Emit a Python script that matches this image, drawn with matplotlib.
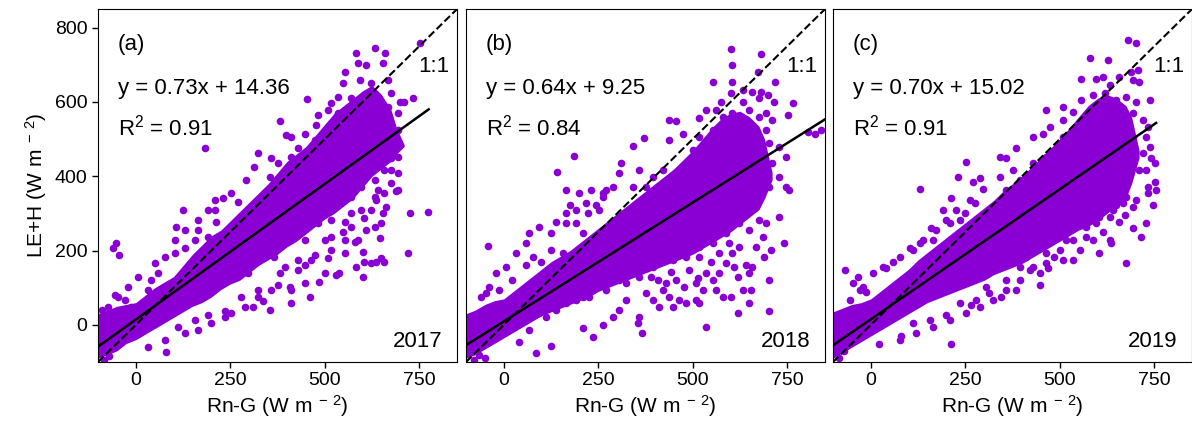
import numpy as np
import matplotlib.pyplot as plt

plt.rcParams['font.family'] = ['Liberation Sans', 'DejaVu Sans']
plt.rcParams['mathtext.fontset'] = 'custom'
plt.rcParams['mathtext.rm'] = 'Liberation Sans'
plt.rcParams['mathtext.default'] = 'regular'

# panel info
years = ["2017", "2018", "2019"]
tags = ["(a)", "(b)", "(c)"]
slopes = [0.73, 0.64, 0.70]
intercepts = [14.36, 9.25, 15.02]
r2 = [0.91, 0.84, 0.91]
fit_xmax = [775, 850, 755]

# dense core of each cloud: x, lower edge, upper edge
core_x = [-100, -75, -50, -25, 0, 25, 50, 75, 100, 125, 150, 175, 200, 225, 250, 275, 300,
          325, 350, 375, 400, 425, 450, 475, 500, 525, 550, 575, 600, 625, 650, 675, 690, 710]
core_lo_2017 = [-90, -80, -70, -50, -40, -25, -10, 5, 20, 35, 50, 60, 75, 95, 110, 120, 140,
                160, 175, 190, 210, 225, 245, 265, 285, 300, 320, 340, 370, 400, 420, 440, 460, 480]
core_hi_2017 = [30, 40, 50, 55, 60, 80, 100, 115, 130, 160, 190, 215, 240, 255, 280, 305, 330,
                355, 380, 410, 440, 460, 480, 510, 540, 570, 590, 610, 630, 645, 620, 580, 530, 485]
core_lo_2018 = [-90, -80, -65, -50, -35, -20, -5, 10, 25, 35, 45, 55, 65, 75, 90, 100, 110,
                120, 130, 140, 150, 160, 170, 180, 190, 205, 220, 235, 250, 270, 290, 310, 340, 390]
core_hi_2018 = [30, 40, 55, 65, 70, 90, 110, 130, 150, 170, 185, 200, 220, 240, 260, 280, 300,
                320, 340, 360, 380, 400, 420, 445, 470, 500, 530, 555, 570, 575, 560, 535, 500, 410]
core_lo_2019 = [-90, -75, -60, -45, -30, -15, 0, 15, 30, 45, 60, 70, 80, 90, 100, 110, 120,
                135, 145, 155, 165, 180, 195, 210, 225, 240, 255, 265, 280, 300, 320, 340, 380, 450]
core_hi_2019 = [35, 45, 55, 60, 70, 90, 110, 130, 150, 175, 195, 215, 235, 255, 275, 295, 315,
                335, 360, 380, 400, 425, 450, 475, 500, 530, 560, 590, 610, 620, 610, 590, 560, 470]

# scattered points outside the core (Rn-G, LE+H)
pts_2017 = [
    (182, 475), (454, 607), (381, 549), (583, 731), (632, 744), (660, 731), (654, 704),
    (610, 699), (588, 704), (553, 681), (548, 650), (592, 659), (623, 650), (667, 659),
    (676, 623), (570, 610), (597, 601), (641, 614), (698, 601), (733, 610), (711, 601),
    (751, 758), (508, 578), (482, 565), (535, 569), (478, 538), (447, 515), (398, 511),
    (411, 506), (429, 475), (359, 448), (323, 462), (314, 426), (292, 390), (354, 399),
    (376, 435), (385, 381), (394, 354), (429, 417), (464, 453), (500, 480), (517, 524),
    (553, 542), (579, 560), (605, 551), (632, 560), (658, 542), (676, 506), (694, 524),
    (685, 480), (676, 448), (694, 453), (694, 363), (658, 417), (632, 390), (597, 372),
    (570, 417), (535, 435), (517, 399), (482, 381), (456, 408), (429, 372), (411, 453),
    (473, 498), (561, 498), (623, 498), (650, 453), (579, 453), (614, 435), (641, 363),
    (570, 354), (535, 363),
    (-52, 220), (-60, 206), (-45, 188), (-56, 80), (81, -72), (125, 309), (107, 263),
    (165, 255), (231, 341), (720, 193), (725, 300), (773, 305), (689, 359), (658, 354),
    (636, 336), (654, 300), (663, 318), (645, 233), (632, 264), (605, 287), (610, 255),
    (601, 197), (623, 166), (605, 170), (636, 170), (650, 179), (658, 170), (601, 128),
    (583, 157), (588, 228), (579, 224), (553, 193), (539, 139), (530, 134), (500, 139),
    (486, 116), (460, 76), (473, 188), (447, 161), (411, 58), (381, 139), (376, 107),
    (354, 40), (337, 63), (310, 49), (253, 31), (235, 36), (191, 27), (156, 13),
    (112, -5), (548, 251), (517, 237), (508, 179), (429, 175), (570, 300), (553, 278),
    (517, 282), (632, 345), (570, 345), (407, 103), (323, 94), (279, 76), (297, 139),
    (367, 184), (394, 229), (447, 229), (482, 273), (59, 139), (41, 121), (32, 94),
    (103, 193), (129, 206), (156, 228), (191, 237), (213, 278), (209, 309), (270, 332),
    (15, 54), (-12, 49), (-29, 67), (-85, -95), (-70, -85), (-60, -60), (-90, 40),
    (394, 157), (429, 148), (464, 175), (517, 201), (553, 228), (570, 264), (597, 309),
    (623, 309), (650, 273), (500, 228), (447, 112), (411, 94), (359, 94), (323, 76),
    (288, 49), (235, 22), (200, 4), (165, -14), (129, -23), (76, -41), (32, -59),
    (103, 228), (129, 255), (165, 282), (191, 309), (209, 336), (253, 354), (76, 184),
    (50, 166), (6, 130), (-21, 103), (-47, 76), (-74, 49), (535, 614), (517, 596),
    (570, 578), (614, 587), (667, 587), (694, 569), (676, 417), (694, 408), (676, 381),
]
pts_2018 = [
    (601, 742), (680, 729), (605, 699), (553, 654), (604, 654), (672, 681), (718, 653),
    (601, 623), (632, 632), (657, 628), (680, 628), (698, 619), (676, 610), (632, 601),
    (575, 601), (716, 601), (764, 596), (751, 565), (804, 520), (824, 514), (747, 453),
    (747, 372), (187, 455), (140, 412), (341, 481), (372, 502), (438, 551), (456, 550),
    (438, 498), (473, 515), (517, 556), (535, 578), (561, 578), (579, 560), (605, 569),
    (650, 578), (676, 560), (694, 569), (711, 551), (694, 524), (676, 498), (702, 489),
    (729, 480), (711, 435), (694, 417), (729, 399), (702, 372), (676, 372), (650, 408),
    (623, 435), (641, 480), (605, 515), (579, 506), (553, 524), (517, 506), (500, 471),
    (535, 462), (570, 453), (597, 426), (570, 399), (544, 417), (517, 426), (482, 435),
    (464, 399), (500, 381), (447, 372), (420, 417), (394, 399), (359, 417), (376, 372),
    (341, 372), (310, 435), (306, 408), (288, 372), (262, 354), (231, 363), (605, 372),
    (658, 363), (755, 363),
    (-43, 212), (-38, 103), (-60, 76), (125, 248), (175, 323), (222, 300), (244, 323),
    (262, 345), (729, 291), (742, 220), (707, 202), (689, 184), (702, 121), (702, 36),
    (658, 157), (650, 139), (641, 161), (619, 130), (610, 157), (632, 94), (654, 94),
    (650, 58), (619, 31), (601, 76), (579, 76), (561, 94), (553, 121), (535, 139),
    (548, 170), (513, 125), (526, 94), (508, 67), (517, 58), (535, -5), (482, 58),
    (478, 103), (464, 67), (447, 49), (438, 76), (411, 49), (429, 112), (442, 143),
    (407, 121), (389, 130), (376, 85), (359, 22), (354, 4), (367, -23), (323, 67),
    (306, 40), (288, 22), (262, 0), (235, -32), (209, -9), (125, -58), (85, -76),
    (41, -45), (517, 184), (570, 193), (597, 220), (588, 318), (623, 291), (676, 282),
    (658, 332), (632, 350), (676, 352), (561, 255), (517, 246), (473, 202), (411, 184),
    (341, 139), (306, 121), (253, 112), (209, 76), (165, 58), (112, 22), (68, -14),
    (6, 4), (76, 184), (98, 170), (59, 161), (125, 202), (156, 193), (165, 273),
    (191, 273), (209, 246), (129, 148), (23, 121), (-12, 94), (165, 363), (200, 354),
    (270, 363), (-80, -95), (-65, -80), (-50, -90), (840, 525),
    (420, 94), (394, 67), (456, 121), (491, 148), (508, 112), (570, 139), (588, 166),
    (605, 193), (623, 210), (667, 210), (685, 237), (694, 273), (650, 255), (623, 273),
    (588, 246), (553, 220), (517, 210), (482, 184), (447, 175), (394, 157), (359, 130),
    (323, 112), (270, 94), (226, 76), (191, 67), (138, 40), (94, 31), (59, 13),
    (68, 246), (94, 264), (138, 278), (165, 300), (191, 309), (217, 327), (253, 309),
    (59, 220), (32, 193), (6, 157), (-21, 139), (-47, 85),
]
pts_2019 = [
    (680, 767), (702, 758), (579, 719), (628, 713), (658, 668), (689, 681), (707, 686),
    (557, 663), (597, 663), (614, 668), (632, 645), (694, 659), (711, 654), (738, 605),
    (508, 587), (464, 578), (535, 574), (557, 605), (588, 619), (619, 623), (650, 605),
    (676, 614), (702, 601), (508, 551), (561, 556), (597, 569), (623, 578), (658, 569),
    (694, 569), (720, 551), (733, 533), (429, 506), (456, 515), (473, 533), (508, 506),
    (535, 524), (570, 524), (605, 533), (641, 524), (667, 533), (694, 506), (729, 506),
    (738, 480), (742, 448), (751, 435), (751, 385), (755, 363), (733, 372), (711, 417),
    (729, 417), (385, 475), (359, 448), (341, 453), (253, 439), (231, 399), (270, 385),
    (288, 394), (129, 365), (297, 367), (341, 399), (376, 417), (394, 390), (429, 435),
    (464, 453), (500, 471), (535, 480), (570, 471), (605, 489), (641, 471), (676, 462),
    (694, 444), (658, 426), (623, 417), (588, 417), (553, 435), (517, 417), (482, 399),
    (447, 381), (411, 363), (359, 363),
    (-69, 148), (-47, 112), (-34, 128), (-21, 103), (-12, 89), (81, -30), (23, -51),
    (213, -51), (160, 260), (191, 309), (213, 341), (275, 327), (59, 170), (41, 152),
    (112, 202), (129, 220), (165, 228), (209, 273), (235, 282), (248, 300), (676, 167),
    (605, 193), (632, 228), (636, 220), (614, 251), (588, 228), (570, 237), (553, 202),
    (535, 175), (508, 175), (486, 184), (469, 152), (447, 139), (447, 107), (420, 148),
    (394, 157), (385, 94), (359, 121), (345, 76), (314, 85), (306, 103), (279, 67),
    (266, 54), (235, 58), (200, 27), (156, 13), (112, 4), (694, 260), (716, 237),
    (729, 273), (747, 323), (733, 354), (694, 318), (672, 296), (658, 278), (650, 323),
    (676, 345), (632, 291), (597, 273), (570, 309), (535, 264), (517, 228), (482, 237),
    (429, 202), (464, 193), (411, 184), (341, 157), (376, 193), (-85, -90), (-70, -70),
    (429, 157), (464, 166), (500, 201), (535, 228), (570, 264), (605, 291), (641, 309),
    (667, 327), (702, 336), (394, 121), (359, 94), (323, 67), (288, 49), (253, 31),
    (209, 13), (165, -5), (120, -23), (76, -41), (76, 184), (103, 206), (138, 228),
    (173, 255), (200, 282), (226, 309), (262, 336), (32, 157), (6, 139), (-29, 94),
    (-56, 67), (720, 462),
]

cores = [(core_lo_2017, core_hi_2017), (core_lo_2018, core_hi_2018), (core_lo_2019, core_hi_2019)]
points = [pts_2017, pts_2018, pts_2019]

purple = '#8a00d4'
unit = ' (W m$^{\\;-\\,2}$)'
fig = plt.figure(figsize=(11.92, 4.32), dpi=100)
lefts = [98 / 1192, 466 / 1192, 833 / 1192]

for i in range(3):
    ax = fig.add_axes([lefts[i], 0.162, 0.3012, 0.817])
    lo, hi = cores[i]
    ax.fill_between(core_x, lo, hi, color=purple, lw=0, zorder=1)
    p = np.array(points[i])
    ax.scatter(p[:, 0], p[:, 1], s=30, color=purple, lw=0, zorder=2)

    ax.plot([-100, 850], [-100, 850], 'k--', lw=1.5, zorder=3)
    fx = np.array([-100, fit_xmax[i]])
    ax.plot(fx, slopes[i] * fx + intercepts[i], 'k-', lw=1.8, zorder=3)

    ax.set_xlim(-100, 850)
    ax.set_ylim(-100, 850)
    ax.set_xticks([0, 250, 500, 750])
    ax.set_yticks([0, 200, 400, 600, 800])
    ax.tick_params(labelsize=14, length=4, width=1)
    if i > 0:
        ax.tick_params(axis='y', left=False, labelleft=False)
    else:
        ax.set_ylabel('LE+H' + unit, fontsize=15)
    ax.set_xlabel('Rn-G' + unit, fontsize=15, labelpad=3)

    ax.text(0.055, 0.884, tags[i], transform=ax.transAxes, fontsize=16)
    ax.text(0.055, 0.759, 'y = %.2fx + %.2f' % (slopes[i], intercepts[i]),
            transform=ax.transAxes, fontsize=16)
    ax.text(0.055, 0.643, 'R$^2$ = %.2f' % r2[i], transform=ax.transAxes, fontsize=16)
    ax.text(0.98, 0.822, '1:1', transform=ax.transAxes, fontsize=16, ha='right')
    ax.text(0.96, 0.042, years[i], transform=ax.transAxes, fontsize=16, ha='right')

fig.savefig('out.png', dpi=100)
